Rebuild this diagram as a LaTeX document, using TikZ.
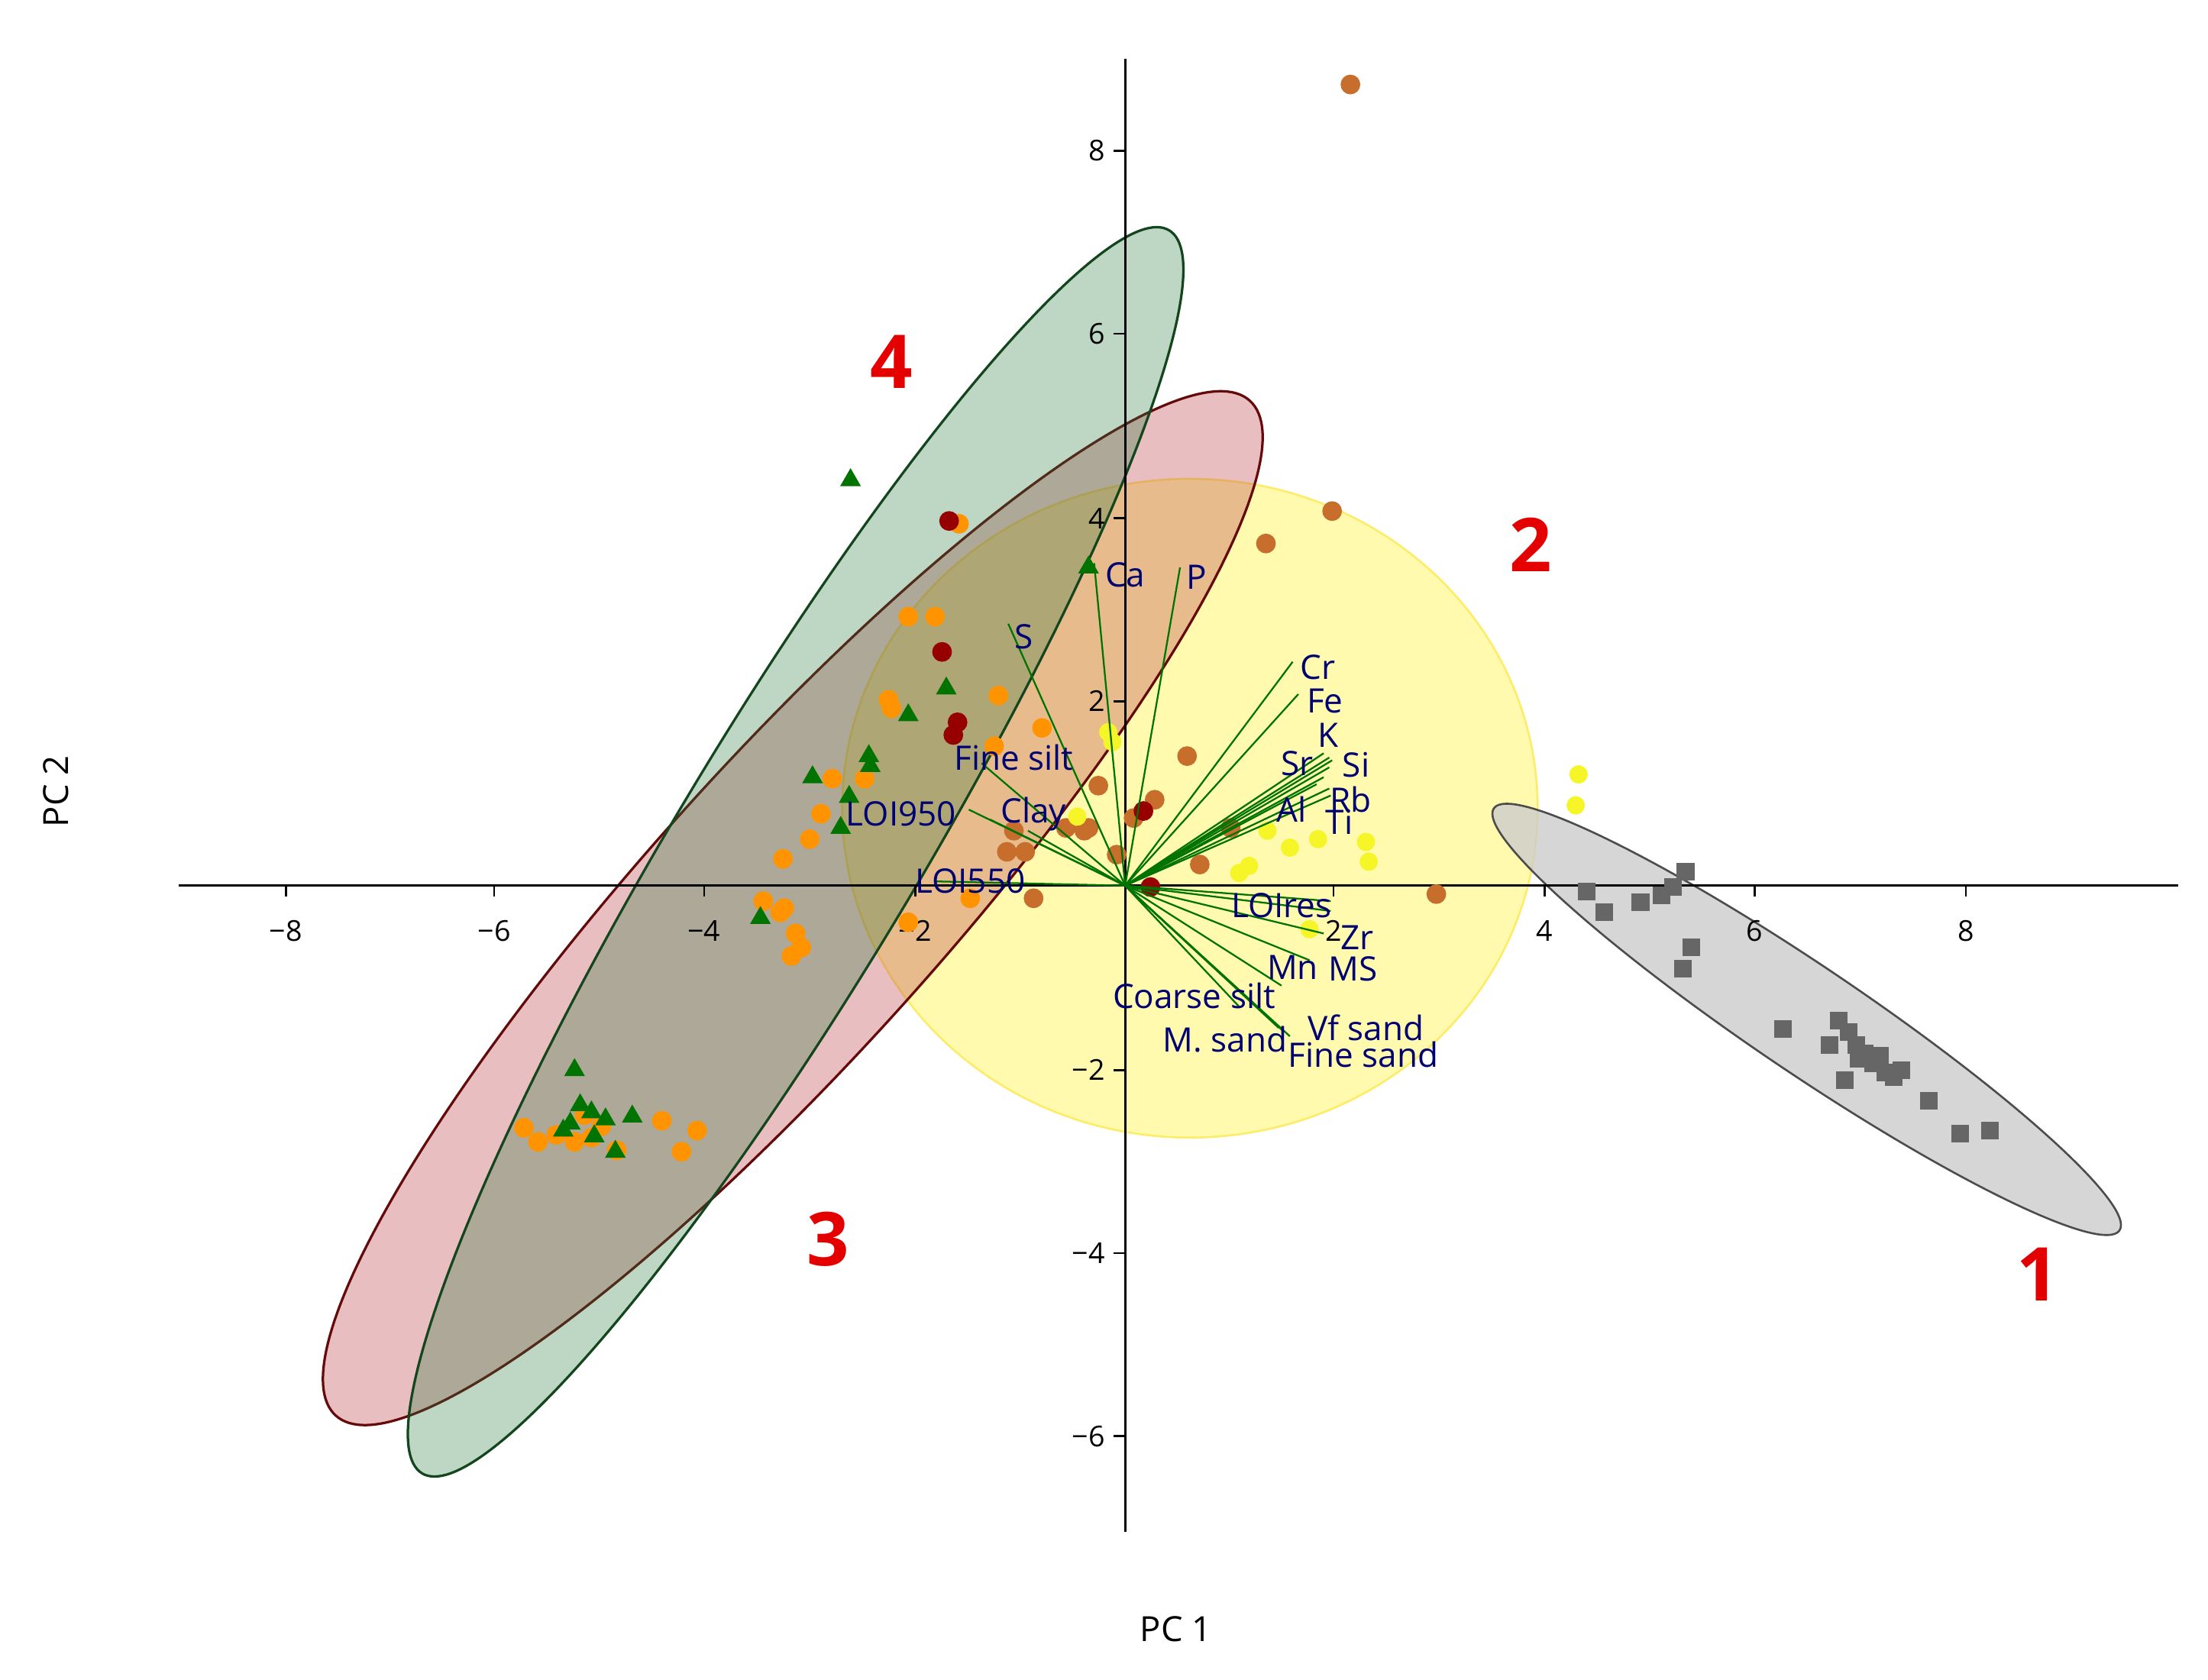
\documentclass[tikz,border=0pt]{standalone}
\usepackage{fontspec}
\setmainfont{Open Sans}
\begin{document}
\begin{tikzpicture}[x=0.1mm,y=-0.1mm,
  lbl/.style={text=blue!45!black,font=\fontsize{6.8}{7}\selectfont,inner sep=0.5pt},
  tick/.style={font=\fontsize{5.8}{6}\selectfont,inner sep=0.5pt},
  grp/.style={text=red!90!black,font=\fontsize{15}{16}\selectfont\bfseries},
  vec/.style={green!45!black,line width=0.35pt},
  sq/.style={fill=black!60,draw=none,minimum size=1.25mm,inner sep=0,shape=rectangle},
  oc/.style={fill=orange!85!yellow,draw=none,circle,minimum size=1.4mm,inner sep=0},
  bc/.style={fill={rgb,255:red,200;green,110;blue,45},draw=none,circle,minimum size=1.4mm,inner sep=0},
  rc/.style={fill={rgb,255:red,150;green,0;blue,0},draw=none,circle,minimum size=1.4mm,inner sep=0},
  yc/.style={fill={rgb,255:red,245;green,245;blue,40},draw=none,circle,minimum size=1.3mm,inner sep=0},
  tri/.style={fill=green!45!black,draw=none,regular polygon,regular polygon sides=3,minimum size=1.7mm,inner sep=0}]
\usetikzlibrary{shapes.geometric}
\useasboundingbox (0,0) rectangle (1568,1193);
\fill[white] (0,0) rectangle (1568,1193);
% ellipses
\filldraw[fill=yellow!70!white,fill opacity=0.45,draw=yellow!80!orange,draw opacity=0.5] (845,574) ellipse [x radius=247,y radius=234];
\filldraw[fill={rgb,255:red,190;green,70;blue,80},fill opacity=0.35,draw={rgb,255:red,100;green,10;blue,10},line width=0.5pt] (563,645) ellipse [x radius=485,y radius=104,rotate=48];
\filldraw[fill={rgb,255:red,40;green,120;blue,60},fill opacity=0.3,draw={rgb,255:red,20;green,70;blue,30},line width=0.5pt] (565,605) ellipse [x radius=515,y radius=86,rotate=59];
\filldraw[fill=black!20,fill opacity=0.8,draw=black!70,line width=0.4pt] (1283,724) ellipse [x radius=268,y radius=38,rotate=-34];
% axes
\draw[line width=0.5pt] (127,629) -- (1547,629);
\draw[line width=0.5pt] (799,42) -- (799,1088);
\foreach \x/\t in {203/−8,351/−6,500/−4,650/−2,947/2,1097/4,1246/6,1396/8}{
  \draw (\x,629) -- (\x,637); \node[tick] at (\x,661) {\t};}
\foreach \y/\t in {107/8,237/6,368/4,498/2,760/−2,890/−4,1020/−6}{
  \draw (791,\y) -- (799,\y); \node[tick,anchor=east] at (787,\y) {\t};}
\node[font=\fontsize{7}{8}\selectfont] (pc1) at (835,1157) {PC 1};
\node[font=\fontsize{7}{8}\selectfont,rotate=90] (pc2) at (40,562) {PC 2};
% points
\foreach \p in {(1127,633),(1139,648),(1165,641),(1180,636),(1188,630),(1197,619),(1195,688),(1201,673),(1266,731),(1299,742),(1306,725),(1313,733),(1318,742),(1324,748),(1330,755),(1339,762),(1310,767),(1345,765),(1350,760),(1370,782),(1392,805),(1413,803),(1320,752),(1335,750)} \node[sq] at \p {};
\foreach \p in {(645,438),(664,438),(631,497),(633,503),(709,494),(681,372),(591,553),(614,553),(583,578),(575,596),(556,610),(542,640),(557,645),(565,663),(569,673),(562,679),(554,648),(645,655),(689,638),(706,530),(740,517),(372,801),(382,811),(408,811),(420,808),(438,817),(470,796),(495,803),(484,818),(427,800),(415,792),(395,806)} \node[oc] at \p {};
\foreach \p in {(959,60),(946,363),(899,386),(843,537),(820,568),(780,558),(773,588),(757,588),(715,605),(728,605),(734,638),(793,607),(805,581),(874,588),(852,614),(1020,635),(720,590),(770,590)} \node[bc] at \p {};
\foreach \p in {(787,520),(790,527),(1121,550),(1119,572),(916,602),(936,596),(970,598),(972,612),(887,615),(880,620),(930,660),(900,590),(765,580)} \node[yc] at \p {};
\foreach \p in {(674,370),(669,463),(680,513),(677,522),(812,576),(817,630)} \node[rc] at \p {};
\foreach \p in {(604,341),(773,403),(672,489),(645,508),(617,537),(618,544),(577,552),(603,566),(597,588),(540,652),(408,760),(412,785),(420,790),(400,803),(430,795),(449,793),(437,818),(422,807),(405,798)} \node[tri] at \p {};
% vectors
\coordinate (o) at (799,629);
\foreach \e in {(777,400),(838,403),(716,443),(918,470),(922,493),(940,535),(944,538),(946,540),(944,545),(940,552),(935,557),(944,560),(945,565),(697,542),(688,575),(703,582),(730,590),(665,626),(945,640),(945,647),(940,663),(930,682),(910,700),(880,715),(908,730),(912,733),(916,736)}
  \draw[vec] (o) -- \e;
\node[lbl] (ca) at (799,408) {Ca};
\node[lbl] (p) at (850,410) {P};
\node[lbl] (s) at (727,452) {S};
\node[lbl] (cr) at (936,474) {Cr};
\node[lbl] (fe) at (941,498) {Fe};
\node[lbl] (k) at (943,522) {K};
\node[lbl] (sr) at (921,542) {Sr};
\node[lbl] (si) at (963,543) {Si};
\node[lbl] (al) at (917,575) {Al};
\node[lbl] (rb) at (959,568) {Rb};
\node[lbl] (ti) at (951,584) {Ti};
\node[lbl] (fs) at (720,538) {Fine silt};
\node[lbl] (l950) at (640,578) {LOI950};
\node[lbl] (clay) at (734,578) {Clay};
\node[lbl] (l550) at (689,626) {LOI550};
\node[lbl] (lres) at (910,643) {LOIres};
\node[lbl] (zr) at (964,666) {Zr};
\node[lbl] (mn) at (918,687) {Mn};
\node[lbl] (ms) at (961,688) {MS};
\node[lbl] (cs) at (848,707) {Coarse silt};
\node[lbl] (msand) at (870,738) {M. sand};
\node[lbl] (vf) at (970,730) {Vf sand};
\node[lbl] (fsand) at (968,749) {Fine sand};
% group numbers
\node[grp] (g1) at (1447,905) {1};
\node[grp] (g2) at (1087,387) {2};
\node[grp] (g3) at (588,880) {3};
\node[grp] (g4) at (633,257) {4};
\end{tikzpicture}
\end{document}
